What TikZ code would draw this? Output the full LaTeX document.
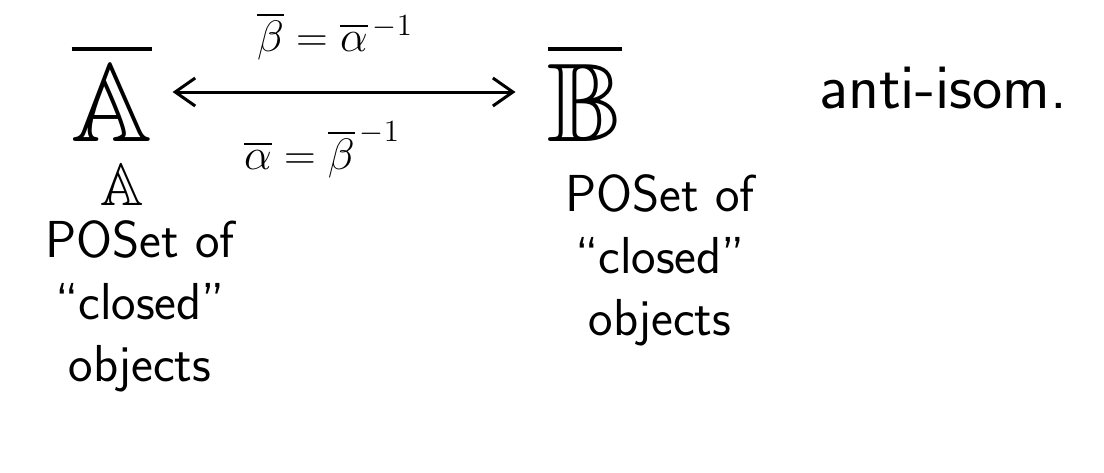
\documentclass[tikz,border=0pt]{standalone}
\usepackage{fix-cm}
\usepackage{amssymb}
\usetikzlibrary{arrows.meta}
\begin{document}
\begin{tikzpicture}[x=0.5pt,y=-0.5pt,line width=1.5pt,
    hand/.style={font=\sffamily\fontsize{26}{31}\selectfont,align=center},
    bigsym/.style={font=\fontsize{56}{60}\selectfont},
    eqlabel/.style={font=\fontsize{22}{26}\selectfont,inner sep=1pt}]
  \useasboundingbox (0,0) rectangle (1104,472);
  % the two posets and the anti-isomorphism
  \node[bigsym] (barA) at (112,92) {$\overline{\mathbb{A}}$};
  \node[bigsym] (barB) at (585,92) {$\overline{\mathbb{B}}$};
  \draw[{Straight Barb[length=10pt,width=14pt]}-{Straight Barb[length=10pt,width=14pt]},
    shorten <=6pt, shorten >=12pt] (barA) -- (barB);
  \node[eqlabel] (betaeq) at (335,36) {$\overline{\beta} = \overline{\alpha}^{\,-1}$};
  \node[eqlabel] (alphaeq) at (322,150) {$\overline{\alpha} = \overline{\beta}^{\,-1}$};
  \node[hand,font=\sffamily\fontsize{32}{36}\selectfont] (anti) at (943,88) {anti-isom.};
  % descriptions
  \node[font=\fontsize{30}{34}\selectfont,inner sep=1pt] (smallA) at (122,185) {$\mathbb{A}$};
  \node[hand] (leftposet) at (140,306) {POSet of\\``closed''\\objects};
  \node[hand] (rightposet) at (660,260) {POSet of\\``closed''\\objects};
\end{tikzpicture}
\end{document}
